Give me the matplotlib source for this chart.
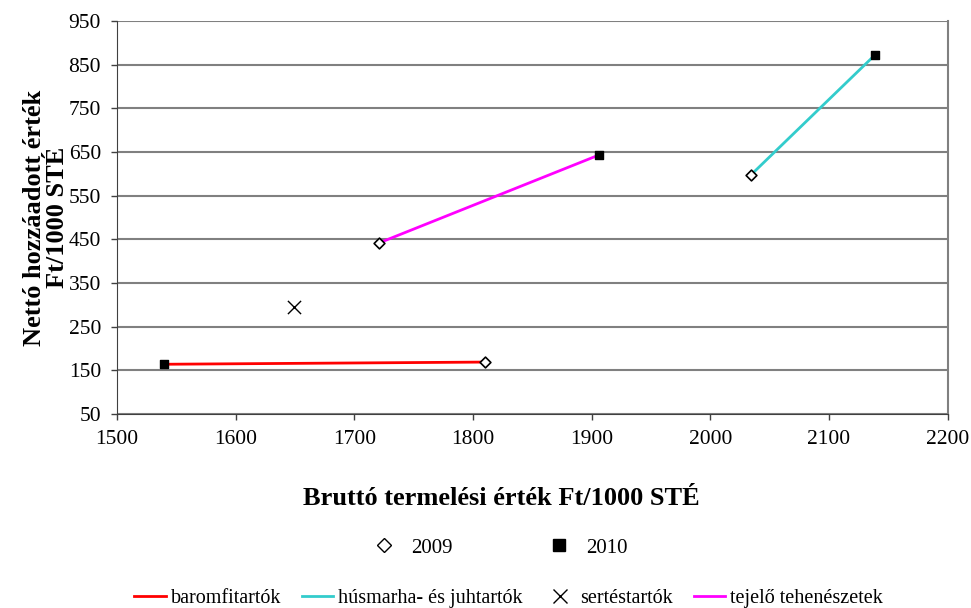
import matplotlib.pyplot as plt
from matplotlib.lines import Line2D

plt.rcParams['font.family'] = ['Liberation Serif', 'DejaVu Serif']

# csoportok: 2009 -> 2010 (bruttó termelési érték, nettó hozzáadott érték)
groups = ['baromfitartók', 'húsmarha- és juhtartók', 'sertéstartók', 'tejelő tehenészetek']
colors = ['#ff0000', '#33cccc', 'black', '#ff00ff']
x_2009 = [1810, 2034, None, 1721]
y_2009 = [169, 597, None, 442]
x_2010 = [1540, 2139, None, 1906]
y_2010 = [164, 873, None, 643]
sertes_x = [1649]
sertes_y = [295]

fig = plt.figure(figsize=(9.71, 6.08), dpi=100)
ax = fig.add_axes([0.1205, 0.319, 0.8555, 0.6465])

for i, name in enumerate(groups):
    if x_2009[i] is None:
        continue
    ax.plot([x_2009[i], x_2010[i]], [y_2009[i], y_2010[i]], color=colors[i], lw=2, zorder=3)

ax.scatter([v for v in x_2009 if v is not None], [v for v in y_2009 if v is not None],
           marker='D', s=30, facecolor='white', edgecolor='black', linewidth=1.2, zorder=4)
ax.scatter([v for v in x_2010 if v is not None], [v for v in y_2010 if v is not None],
           marker='s', s=36, facecolor='black', edgecolor='black', zorder=4)
ax.scatter(sertes_x, sertes_y, marker='x', s=90, color='black', linewidth=1, zorder=4)

ax.set_xlim(1500, 2200)
ax.set_ylim(50, 950)
ax.set_xticks(range(1500, 2201, 100))
ax.set_yticks(range(50, 951, 100))
ax.yaxis.grid(True, color='#808080', lw=1.5)
ax.set_axisbelow(True)
ax.spines['top'].set_visible(False)
ax.spines['right'].set_color('#808080')
ax.spines['right'].set_linewidth(1.5)
ax.spines['left'].set_color('#404040')
ax.spines['bottom'].set_color('#404040')
ax.tick_params(labelsize=15.5, length=4.5, width=1, color='#404040', pad=7)

ax.set_xlabel('Bruttó termelési érték Ft/1000 STÉ', fontsize=19, fontweight='bold', labelpad=24)
ax.xaxis.set_label_coords(0.463, -0.185)
ax.set_ylabel('Nettó hozzáadott érték\nFt/1000 STÉ', fontsize=19, fontweight='bold', labelpad=0,
              linespacing=1.0)

year_handles = [
    Line2D([], [], ls='none', marker='D', markersize=7, markerfacecolor='white',
           markeredgecolor='black'),
    Line2D([], [], ls='none', marker='s', markersize=8, markerfacecolor='black',
           markeredgecolor='black'),
]
fig.legend(year_handles, ['2009', '2010'], loc='center', bbox_to_anchor=(0.517, 0.099),
           ncol=2, frameon=False, fontsize=15, columnspacing=4.7, handlelength=0.8,
           handletextpad=0.9)

grp_handles = [
    Line2D([], [], color=colors[0], lw=2),
    Line2D([], [], color=colors[1], lw=2),
    Line2D([], [], ls='none', marker='x', markersize=10, color='black'),
    Line2D([], [], color=colors[3], lw=2),
]
fig.legend(grp_handles, groups, loc='center', bbox_to_anchor=(0.524, 0.016),
           ncol=4, frameon=False, fontsize=14.5, columnspacing=1.05, handlelength=1.55,
           handletextpad=0.25)

fig.savefig('out.png', dpi=100)
